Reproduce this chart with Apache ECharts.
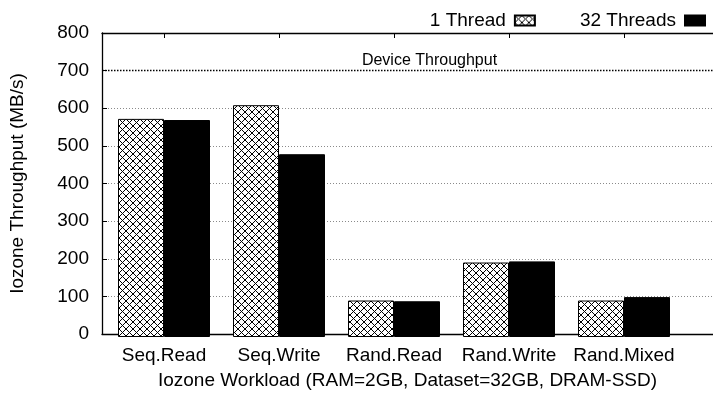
<!DOCTYPE html>
<html>
<head>
<meta charset="utf-8">
<script src="https://cdn.jsdelivr.net/npm/echarts@6/dist/echarts.min.js"></script>
<style>
  html, body { margin: 0; padding: 0; background: #fff; }
  #chart { width: 713px; height: 395px; }
</style>
</head>
<body>
<div id="chart"></div>
<script>
// Iozone throughput per workload, 1 vs 32 threads (MB/s)
const workloads = ['Seq.Read', 'Seq.Write', 'Rand.Read', 'Rand.Write', 'Rand.Mixed'];
const oneThread = [574, 610, 96, 196, 96];
const thirtyTwoThreads = [571, 481, 94, 199, 105];
const yTicks = { min: 0, max: 800, step: 100 };
const deviceThroughput = 700;

const FONT = 'Liberation Sans, Arial, Helvetica, sans-serif';

// Cross-hatch fill used for the single-thread bars
function hatchPattern() {
  const s = 7;
  const c = document.createElement('canvas');
  c.width = s; c.height = s;
  const g = c.getContext('2d');
  g.fillStyle = '#fff';
  g.fillRect(0, 0, s, s);
  g.strokeStyle = '#000';
  g.lineWidth = 1;
  g.beginPath();
  g.moveTo(0, 0); g.lineTo(s, s);
  g.moveTo(0, s); g.lineTo(s, 0);
  g.stroke();
  return c;
}

const chart = echarts.init(document.getElementById('chart'), null, { renderer: 'canvas' });

const option = {
  animation: false,
  backgroundColor: '#fff',
  textStyle: { fontFamily: FONT, color: '#000' },
  legend: {
    top: 6,
    right: 2,
    align: 'right',
    icon: 'rect',
    itemWidth: 20,
    itemHeight: 10,
    itemGap: 44,
    data: ['1 Thread', '32 Threads'],
    textStyle: { fontFamily: FONT, fontSize: 19, color: '#000', padding: [0, 4, 0, 0] },
    selectedMode: false
  },
  grid: [
    // bar area (category bands)
    { left: 106.5, right: 31.5, top: 33, bottom: 58 },
    // frame, value axis and gridlines
    { left: 96, right: -3, top: 33, bottom: 58 }
  ],
  xAxis: [
    {
      type: 'category',
      gridIndex: 0,
      data: workloads,
      boundaryGap: true,
      axisLine: { show: false },
      axisTick: { show: false },
      axisLabel: { interval: 0, fontFamily: FONT, fontSize: 19, color: '#000', margin: 9 }
    },
    {
      type: 'category',
      gridIndex: 0,
      position: 'top',
      data: workloads,
      boundaryGap: true,
      axisLine: { show: false },
      axisTick: { show: true, interval: 0, inside: true, alignWithLabel: true, length: 5, lineStyle: { color: '#000' } },
      axisLabel: { show: false }
    },
    {
      type: 'value',
      gridIndex: 1,
      min: 0, max: 1,
      axisLine: { show: true, onZero: false, lineStyle: { color: '#000', width: 1.3 } },
      axisTick: { show: false },
      axisLabel: { show: false },
      splitLine: { show: false },
      name: 'Iozone Workload (RAM=2GB, Dataset=32GB, DRAM-SSD)',
      nameLocation: 'middle',
      nameGap: 37,
      nameTextStyle: { fontFamily: FONT, fontSize: 19, color: '#000' }
    },
    {
      type: 'value',
      gridIndex: 1,
      position: 'top',
      min: 0, max: 1,
      axisLine: { show: true, onZero: false, lineStyle: { color: '#000', width: 1.3 } },
      axisTick: { show: false },
      axisLabel: { show: false },
      splitLine: { show: false }
    }
  ],
  yAxis: [
    {
      type: 'value',
      gridIndex: 0,
      min: yTicks.min, max: yTicks.max, interval: yTicks.step,
      show: false
    },
    {
      type: 'value',
      gridIndex: 1,
      min: yTicks.min, max: yTicks.max, interval: yTicks.step,
      axisLine: { show: true, onZero: false, lineStyle: { color: '#000', width: 1.3 } },
      axisTick: { show: true, inside: true, length: 5, lineStyle: { color: '#000' } },
      axisLabel: { fontFamily: FONT, fontSize: 19, color: '#000', margin: 13 },
      splitLine: { show: true, lineStyle: { color: '#8a8a8a', width: 1, type: [1, 2] } },
      name: 'Iozone Throughput (MB/s)',
      nameLocation: 'middle',
      nameRotate: 90,
      nameGap: 75,
      nameTextStyle: { fontFamily: FONT, fontSize: 19, color: '#000' }
    }
  ],
  series: [
    {
      name: '1 Thread',
      type: 'bar',
      xAxisIndex: 0,
      yAxisIndex: 0,
      data: oneThread,
      barWidth: 46,
      barGap: '0%',
      itemStyle: {
        color: { image: hatchPattern(), repeat: 'repeat' },
        borderColor: '#000',
        borderWidth: 1
      },
      z: 3
    },
    {
      name: '32 Threads',
      type: 'bar',
      xAxisIndex: 0,
      yAxisIndex: 0,
      data: thirtyTwoThreads,
      barWidth: 46,
      barGap: '0%',
      itemStyle: { color: '#000', borderColor: '#000', borderWidth: 1 },
      z: 3
    },
    {
      name: 'Device Throughput',
      type: 'line',
      xAxisIndex: 2,
      yAxisIndex: 1,
      data: [],
      markLine: {
        silent: true,
        symbol: ['none', 'none'],
        lineStyle: { color: '#000', width: 1.3, type: [1.5, 1.5] },
        label: {
          show: true,
          position: 'insideMiddleTop',
          distance: 2,
          formatter: 'Device Throughput',
          fontFamily: FONT,
          fontSize: 16,
          color: '#000',
          padding: [0, 0, 0, 44]
        },
        data: [{ yAxis: deviceThroughput }]
      }
    }
  ]
};

chart.setOption(option);
</script>
</body>
</html>
